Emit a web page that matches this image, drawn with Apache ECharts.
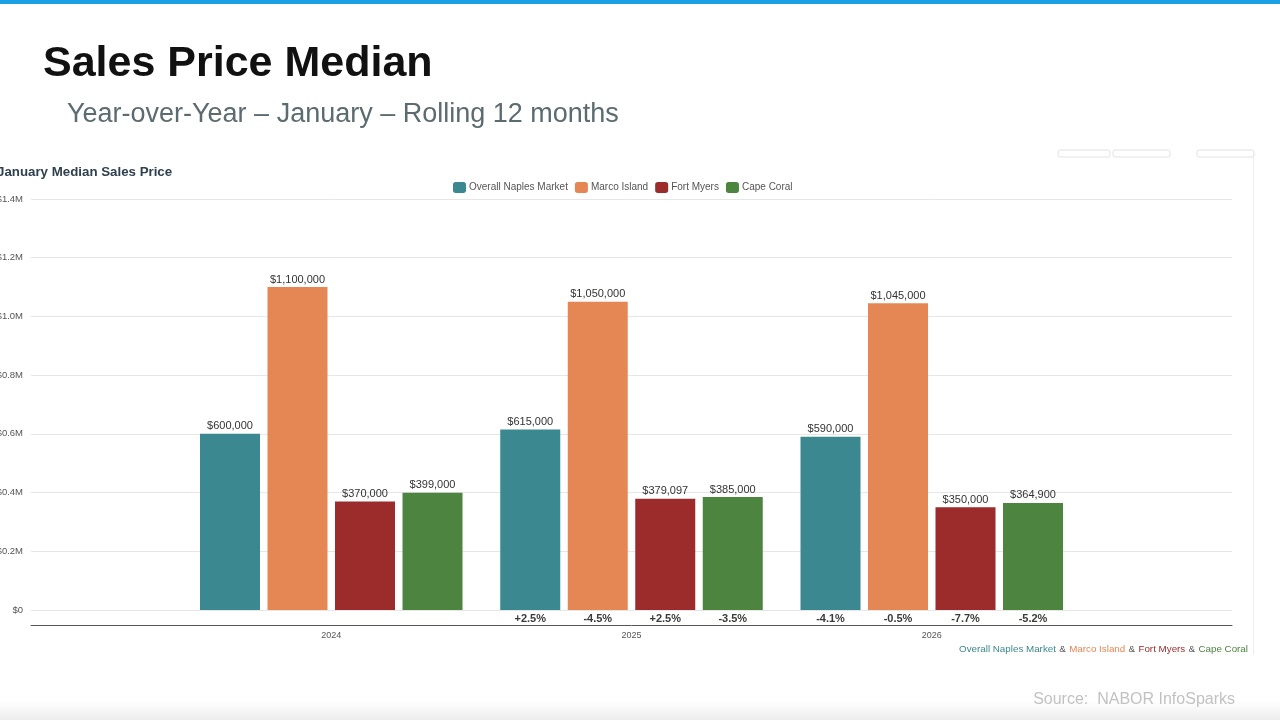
<!DOCTYPE html>
<html>
<head>
<meta charset="utf-8">
<script src="https://cdn.jsdelivr.net/npm/echarts@6/dist/echarts.min.js"></script>
<style>
html,body{margin:0;padding:0;background:#fff;}
#chart{width:1280px;height:720px;}
</style>
</head>
<body>
<div id="chart"></div>
<script>
// ---- Data ----
const categories = ['', '2024', '2025', '2026', ''];
const seriesNames = ['Overall Naples Market', 'Marco Island', 'Fort Myers', 'Cape Coral'];
const naples = [null, 600000, 615000, 590000, null];
const marco = [null, 1100000, 1050000, 1045000, null];
const fortMyers = [null, 370000, 379097, 350000, null];
const capeCoral = [null, 399000, 385000, 364900, null];
const naplesPct = [null, null, '+2.5%', '-4.1%', null];
const marcoPct = [null, null, '-4.5%', '-0.5%', null];
const fortMyersPct = [null, null, '+2.5%', '-7.7%', null];
const capeCoralPct = [null, null, '-3.5%', '-5.2%', null];
const yTicks = ['$0', '$0.2M', '$0.4M', '$0.6M', '$0.8M', '$1.0M', '$1.2M', '$1.4M'];

const colors = ['#3b8891', '#e48755', '#9c2b2b', '#4d8440'];
const values = [naples, marco, fortMyers, capeCoral];
const pcts = [naplesPct, marcoPct, fortMyersPct, capeCoralPct];
const FONT = 'Liberation Sans, Arial, sans-serif';

function fmtMoney(v) {
  return '$' + Math.round(v).toString().replace(/\B(?=(\d{3})+(?!\d))/g, ',');
}

const series = [];
seriesNames.forEach((name, i) => {
  series.push({
    name: name + ' change',
    type: 'bar',
    stack: 's' + i,
    barWidth: 60,
    barGap: '12.5%',
    silent: true,
    itemStyle: { color: 'transparent' },
    data: pcts[i].map(p => (p === null ? null : 0)),
    label: {
      show: true,
      position: 'bottom',
      distance: 3,
      fontFamily: FONT,
      fontSize: 11,
      fontWeight: 'bold',
      color: '#3a3a3a',
      formatter: p => pcts[i][p.dataIndex] || ''
    }
  });
  series.push({
    name: name,
    type: 'bar',
    stack: 's' + i,
    barWidth: 60,
    barGap: '12.5%',
    itemStyle: { color: colors[i] },
    data: values[i],
    label: {
      show: true,
      position: 'top',
      distance: 2,
      fontFamily: FONT,
      fontSize: 11,
      color: '#333',
      formatter: p => (p.value == null ? '' : fmtMoney(p.value))
    }
  });
});

const chart = echarts.init(document.getElementById('chart'));
chart.setOption({
  animation: false,
  backgroundColor: '#fff',
  color: colors,
  title: [
    { text: 'Sales Price Median', left: 43, top: 43, padding: 0,
      textStyle: { fontFamily: FONT, fontSize: 43, fontWeight: 'bold', color: '#111' } },
    { text: 'Year-over-Year – January – Rolling 12 months', left: 67, top: 101, padding: 0,
      textStyle: { fontFamily: FONT, fontSize: 27, fontWeight: 'normal', color: '#5b6b70' } },
    { text: 'January Median Sales Price', left: -3, top: 166, padding: 0,
      textStyle: { fontFamily: FONT, fontSize: 13.3, fontWeight: 'bold', color: '#2f4050' } }
  ],
  legend: {
    data: seriesNames,
    left: 453, top: 182, padding: 0,
    itemWidth: 13, itemHeight: 11, itemGap: 7,
    icon: 'roundRect',
    textStyle: { fontFamily: FONT, fontSize: 10, color: '#555', padding: [0, 0, 0, -2] }
  },
  grid: { left: 31, right: 48, top: 199, bottom: 110, containLabel: false, outerBoundsMode: 'none' },
  xAxis: {
    type: 'category',
    data: categories,
    boundaryGap: false,
    offset: 15,
    axisLine: { onZero: false, lineStyle: { color: '#555', width: 1 } },
    axisTick: { show: false },
    splitLine: { show: false },
    axisLabel: { fontFamily: FONT, fontSize: 9, color: '#555', margin: 6, interval: 0 }
  },
  yAxis: {
    type: 'value',
    min: 0, max: 1400000, interval: 200000,
    axisLine: { show: false },
    axisTick: { show: false },
    splitLine: { lineStyle: { color: '#e6e6e6', width: 1 } },
    axisLabel: {
      fontFamily: FONT, fontSize: 9.5, color: '#555', margin: 8,
      formatter: v => yTicks[Math.round(v / 200000)]
    }
  },
  series: series,
  graphic: [
    { type: 'rect', shape: { x: 0, y: 0, width: 1280, height: 4 }, style: { fill: '#1a9fe3' }, silent: true },
    { type: 'rect', shape: { x: 0, y: 700, width: 1280, height: 20 }, silent: true,
      style: { fill: new echarts.graphic.LinearGradient(0, 0, 0, 1, [{ offset: 0, color: 'rgba(240,240,240,0)' }, { offset: 1, color: 'rgba(236,236,236,1)' }]) } },
    { type: 'rect', shape: { x: 1253, y: 155, width: 1, height: 500 }, style: { fill: '#eeeeee' }, silent: true },
    { type: 'rect', shape: { x: 1058, y: 150, width: 52, height: 7, r: 2 }, style: { fill: 'none', stroke: '#e2e2e2', lineWidth: 1 }, silent: true },
    { type: 'rect', shape: { x: 1113, y: 150, width: 57, height: 7, r: 2 }, style: { fill: 'none', stroke: '#e2e2e2', lineWidth: 1 }, silent: true },
    { type: 'rect', shape: { x: 1197, y: 150, width: 57, height: 7, r: 2 }, style: { fill: 'none', stroke: '#e2e2e2', lineWidth: 1 }, silent: true },
    { type: 'text', right: 32, top: 643, silent: true,
      style: {
        text: '{a|Overall Naples Market} {g|&} {b|Marco Island} {g|&} {c|Fort Myers} {g|&} {d|Cape Coral}',
        rich: {
          a: { fontFamily: FONT, fontSize: 9.8, fill: '#3b8891', color: '#3b8891' },
          b: { fontFamily: FONT, fontSize: 9.8, fill: '#e48755', color: '#e48755' },
          c: { fontFamily: FONT, fontSize: 9.8, fill: '#9c2b2b', color: '#9c2b2b' },
          d: { fontFamily: FONT, fontSize: 9.8, fill: '#4d8440', color: '#4d8440' },
          g: { fontFamily: FONT, fontSize: 9.8, fill: '#555', color: '#555' }
        }
      } },
    { type: 'text', right: 45, top: 692, silent: true,
      style: { text: 'Source:  NABOR InfoSparks', fontFamily: FONT, fontSize: 16, fill: '#c2c2c2' } }
  ]
});
</script>
</body>
</html>
